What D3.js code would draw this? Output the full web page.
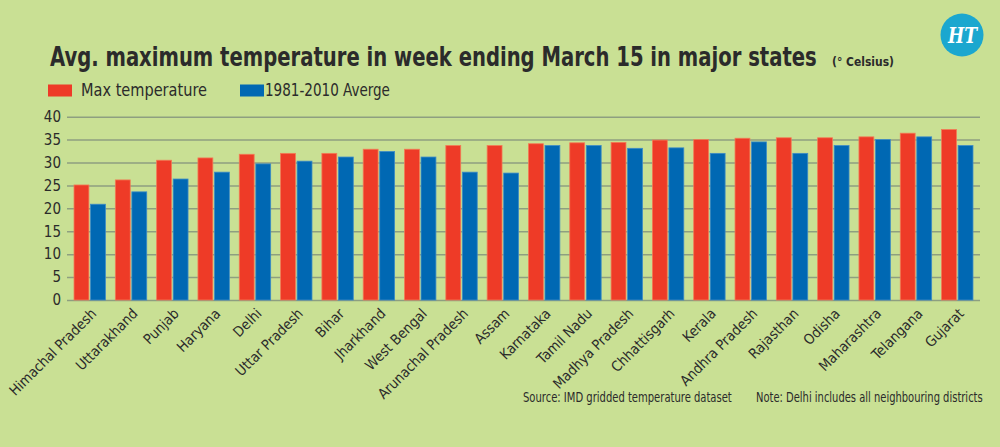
<!DOCTYPE html>
<html>
<head>
<meta charset="utf-8">
<script src="https://cdn.jsdelivr.net/npm/d3@7"></script>
<style>
  html, body { margin: 0; padding: 0; background: #c9e094; }
  svg { display: block; }
  .cond { font-family: "Liberation Sans Narrow", "DejaVu Sans Condensed", "Roboto Condensed", "Liberation Sans", sans-serif; }
</style>
</head>
<body>
<svg id="chart" width="1000" height="447"></svg>
<script>
const states = ['Himachal Pradesh', 'Uttarakhand', 'Punjab', 'Haryana', 'Delhi', 'Uttar Pradesh', 'Bihar',
  'Jharkhand', 'West Bengal', 'Arunachal Pradesh', 'Assam', 'Karnataka', 'Tamil Nadu', 'Madhya Pradesh',
  'Chhattisgarh', 'Kerala', 'Andhra Pradesh', 'Rajasthan', 'Odisha', 'Maharashtra', 'Telangana', 'Gujarat'];
const maxTemp = [25.1, 26.2, 30.5, 31.0, 31.8, 32.0, 32.0, 32.9, 32.9, 33.7, 33.7,
  34.1, 34.3, 34.4, 34.9, 35.0, 35.3, 35.4, 35.4, 35.6, 36.4, 37.2];
const avgTemp = [20.9, 23.6, 26.4, 27.9, 29.7, 30.3, 31.2, 32.4, 31.2, 27.9, 27.7,
  33.7, 33.7, 33.1, 33.2, 32.0, 34.5, 32.0, 33.7, 35.0, 35.6, 33.7];
const seriesNames = ['Max temperature', '1981-2010 Averge'];
const yTicks = [0, 5, 10, 15, 20, 25, 30, 35, 40];

const colors = { fill: ['#ee3b27', '#0068b3'], edge: ['#f37a55', '#3d8bc6'] };

const svg = d3.select('#chart');
const m = { left: 67, right: 980, top: 116.7, bottom: 300 };

// squeeze a text horizontally so it spans w pixels from its x
function fit(sel, w) {
  const len = sel.node().getComputedTextLength();
  const x = +sel.attr('x');
  sel.attr('transform', `translate(${x},0) scale(${w / len},1) translate(${-x},0)`);
  return sel;
}

const y = d3.scaleLinear().domain([0, 40]).range([m.bottom, m.top]);
const x0 = d3.scaleBand().domain(states).range([m.left, m.right]).paddingInner(0.24).paddingOuter(0.17);
const x1 = d3.scaleBand().domain(d3.range(seriesNames.length)).range([0, x0.bandwidth()]).paddingInner(0.1);

// title
fit(svg.append('text').attr('class', 'cond')
  .attr('x', 50).attr('y', 66.5)
  .attr('font-size', 26).attr('font-weight', 'bold').attr('fill', '#2b2b2b')
  .text('Avg. maximum temperature in week ending March 15 in major states'), 767);
fit(svg.append('text').attr('class', 'cond')
  .attr('x', 832).attr('y', 66.5)
  .attr('font-size', 13).attr('font-weight', 'bold').attr('fill', '#2b2b2b')
  .text('(° Celsius)'), 62);

// logo
svg.append('circle').attr('cx', 962).attr('cy', 35).attr('r', 21.5).attr('fill', '#1ba7cf');
fit(svg.append('text').attr('x', 948).attr('y', 43)
  .attr('font-family', '"DejaVu Serif", serif').attr('font-weight', 'bold').attr('font-style', 'italic')
  .attr('font-size', 22).attr('fill', '#ffffff')
  .text('HT'), 29);

// legend
const legendX = [48, 240];
const legendW = [126, 125];
seriesNames.forEach((name, i) => {
  svg.append('rect').attr('x', legendX[i]).attr('y', 84.5).attr('width', 24).attr('height', 12)
    .attr('fill', colors.fill[i]);
  fit(svg.append('text').attr('class', 'cond')
    .attr('x', legendX[i] + (i === 0 ? 33 : 25)).attr('y', 96.5)
    .attr('font-size', 17).attr('fill', '#2b2b2b')
    .text(name), legendW[i]);
});

// y axis with gridlines
const yaxis = d3.axisLeft(y).tickValues(yTicks).tickSize(-(m.right - m.left)).tickPadding(6);
const yg = svg.append('g').attr('transform', `translate(${m.left},0)`).call(yaxis);
yg.select('.domain').remove();
yg.selectAll('line').attr('stroke', '#8e9f80').attr('stroke-width', 1.5);
yg.selectAll('text').attr('class', 'cond').attr('font-size', 15).attr('fill', '#2b2b2b');

// bars
const groups = svg.append('g').selectAll('g')
  .data(states)
  .join('g')
  .attr('transform', d => `translate(${x0(d)},0)`);
groups.selectAll('rect')
  .data((d, i) => [maxTemp[i], avgTemp[i]])
  .join('rect')
  .attr('x', (d, j) => x1(j))
  .attr('y', d => y(d))
  .attr('width', x1.bandwidth())
  .attr('height', d => y(0) - y(d))
  .attr('fill', (d, j) => colors.fill[j])
  .attr('stroke', (d, j) => colors.edge[j])
  .attr('stroke-width', 0.8);

// x axis labels
const xaxis = d3.axisBottom(x0).tickSize(0);
const xg = svg.append('g').attr('transform', `translate(0,${m.bottom})`).call(xaxis);
xg.select('.domain').remove();
xg.selectAll('text')
  .attr('class', 'cond').attr('font-size', 14.3).attr('fill', '#2b2b2b')
  .attr('text-anchor', 'end')
  .attr('x', 0).attr('y', 0).attr('dy', '0.35em')
  .attr('transform', 'translate(4,11) rotate(-45)');

// footnotes
fit(svg.append('text').attr('class', 'cond')
  .attr('x', 523).attr('y', 402).attr('font-size', 13.5).attr('fill', '#2b2b2b')
  .text('Source: IMD gridded temperature dataset'), 209);
fit(svg.append('text').attr('class', 'cond')
  .attr('x', 756).attr('y', 402).attr('font-size', 13.5).attr('fill', '#2b2b2b')
  .text('Note: Delhi includes all neighbouring districts'), 227);
</script>
</body>
</html>
